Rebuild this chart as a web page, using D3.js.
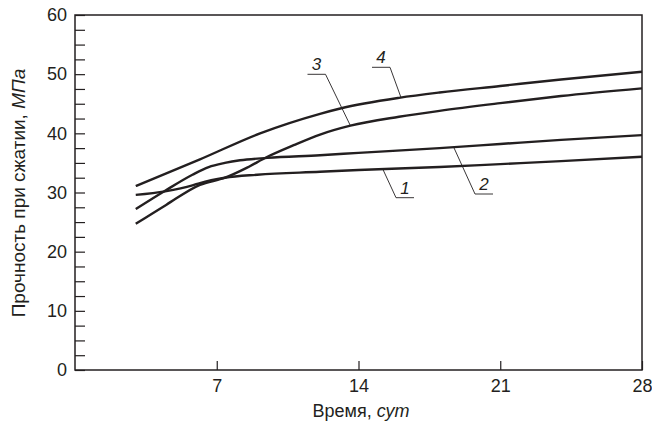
<!DOCTYPE html>
<html>
<head>
<meta charset="utf-8">
<script src="https://cdn.jsdelivr.net/npm/d3@7"></script>
<style>
  body { margin: 0; background: #fff; }
  text { font-family: "Liberation Sans", Arial, sans-serif; fill: #231f20; }
</style>
</head>
<body>
<div id="chart"></div>
<script>
// Data (days, MPa)
var days1 = [3, 4.45, 5.8, 6.17, 7.4, 9, 12.1, 14, 18, 21, 24, 28];
var curve1 = [29.6, 30.2, 31.2, 31.6, 32.5, 33.0, 33.5, 33.8, 34.3, 34.8, 35.3, 36.05];

var days2 = [3, 4.45, 5.8, 6.6, 7.4, 8.15, 9.5, 12.1, 14, 18, 21, 24, 28];
var curve2 = [27.2, 30.3, 33.0, 34.3, 35.0, 35.45, 35.85, 36.3, 36.7, 37.5, 38.2, 38.9, 39.7];

var days3 = [3, 4.5, 6.17, 7.41, 8.5, 9.48, 10.8, 12.1, 13.6, 16, 18, 21, 24, 28];
var curve3 = [24.7, 27.9, 31.3, 32.5, 34.2, 36.0, 38.0, 39.8, 41.3, 42.8, 43.8, 45.1, 46.3, 47.6];

var days4 = [3, 6.17, 9.14, 12.1, 13.1, 16, 18, 21, 24, 28];
var curve4 = [31.1, 35.6, 40.0, 43.3, 44.2, 46.0, 46.9, 48.0, 49.1, 50.4];

var xTicks = [7, 14, 21, 28];
var yTicks = d3.range(0, 60.1, 2.5);
var curveLabels = ["1", "2", "3", "4"];

var width = 652,
	height = 423,
	margin = {top: 15, right: 10, bottom: 53, left: 75};

var x = d3.scaleLinear().domain([0, 28]).range([margin.left, width - margin.right]);
var y = d3.scaleLinear().domain([0, 60]).range([height - margin.bottom, margin.top]);

var svg = d3.select("#chart").append("svg")
	.attr("width", width)
	.attr("height", height);

// frame
svg.append("rect")
	.attr("x", x(0))
	.attr("y", y(60))
	.attr("width", x(28) - x(0))
	.attr("height", y(0) - y(60))
	.attr("fill", "none")
	.attr("stroke", "#231f20")
	.attr("stroke-width", 1.5);

// y axis, ticks pointing inward, labels every 10
var yAxis = svg.append("g")
	.attr("transform", "translate(" + x(0) + ",0)")
	.call(d3.axisLeft(y)
		.tickValues(yTicks)
		.tickSize(-10)
		.tickPadding(8)
		.tickFormat(function(d) { return d % 10 === 0 ? d : ""; }));
yAxis.select(".domain").remove();
yAxis.selectAll("line").attr("stroke", "#231f20").attr("stroke-width", 1.2);
yAxis.selectAll("text").style("font-size", "18px").attr("fill", "#231f20");

// x axis
var xAxis = svg.append("g")
	.attr("transform", "translate(0," + y(0) + ")")
	.call(d3.axisBottom(x)
		.tickValues(xTicks)
		.tickSize(-9)
		.tickPadding(9));
xAxis.select(".domain").remove();
xAxis.selectAll("line").attr("stroke", "#231f20").attr("stroke-width", 1.2);
xAxis.selectAll("text").style("font-size", "18px").attr("fill", "#231f20");

// axis titles
var xt = svg.append("text")
	.attr("x", 361)
	.attr("y", 416.5)
	.attr("text-anchor", "middle")
	.style("font-size", "18px");
xt.append("tspan").text("Время, ");
xt.append("tspan").style("font-style", "italic").text("сут");

var yt = svg.append("text")
	.attr("transform", "translate(25,193) rotate(-90)")
	.attr("text-anchor", "middle")
	.style("font-size", "19px");
yt.append("tspan").text("Прочность при сжатии, ");
yt.append("tspan").style("font-style", "italic").text("МПа");

// curves
var line = d3.line()
	.x(function(d) { return x(d[0]); })
	.y(function(d) { return y(d[1]); })
	.curve(d3.curveMonotoneX);

var series = [
	d3.zip(days1, curve1),
	d3.zip(days2, curve2),
	d3.zip(days3, curve3),
	d3.zip(days4, curve4)
];

svg.append("g")
	.selectAll("path")
	.data(series)
	.enter().append("path")
	.attr("d", line)
	.attr("fill", "none")
	.attr("stroke", "#231f20")
	.attr("stroke-width", 2.4);

// curve labels with leader lines
var leaders = [
	{i: 0, day: 15.2, lx: 405, ly: 197.7, side: -1},
	{i: 1, day: 18.7, lx: 484, ly: 194, side: -1},
	{i: 2, day: 13.6, lx: 316.5, ly: 74.3, side: 1},
	{i: 3, day: 16.1, lx: 381, ly: 67.3, side: 1}
];

function valueAt(s, day) {
	for (var k = 1; k < s.length; k++) {
		if (s[k][0] >= day) {
			var t = (day - s[k - 1][0]) / (s[k][0] - s[k - 1][0]);
			return s[k - 1][1] + t * (s[k][1] - s[k - 1][1]);
		}
	}
	return s[s.length - 1][1];
}

var lg = svg.append("g");
leaders.forEach(function(d) {
	var px = x(d.day), py = y(valueAt(series[d.i], d.day));
	var cx = d.side > 0 ? d.lx + 9 : d.lx - 9;
	lg.append("line")
		.attr("x1", d.lx - 9).attr("x2", d.lx + 9)
		.attr("y1", d.ly).attr("y2", d.ly)
		.attr("stroke", "#231f20").attr("stroke-width", 0.9);
	lg.append("line")
		.attr("x1", cx).attr("y1", d.ly)
		.attr("x2", px).attr("y2", py)
		.attr("stroke", "#231f20").attr("stroke-width", 0.9);
	lg.append("text")
		.attr("x", d.lx)
		.attr("y", d.ly - 4)
		.attr("text-anchor", "middle")
		.style("font-size", "17px")
		.style("font-style", "italic")
		.text(curveLabels[d.i]);
});
</script>
</body>
</html>
